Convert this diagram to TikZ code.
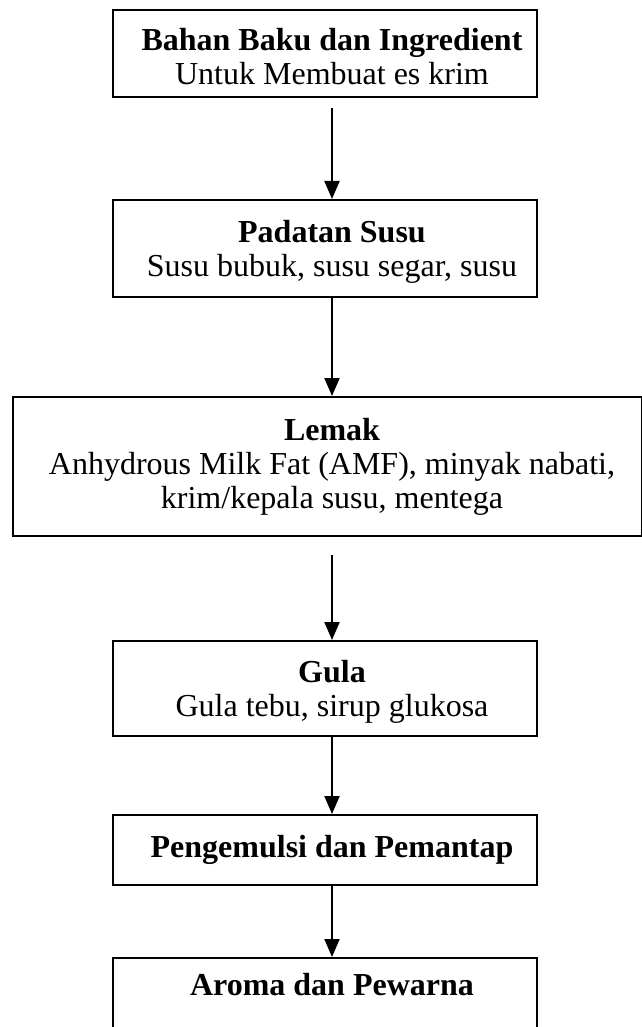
\documentclass[tikz,border=0pt]{standalone}
\usepackage{fontspec}
\setmainfont{Liberation Serif}
\usetikzlibrary{arrows.meta}
\begin{document}
\begin{tikzpicture}[x=1pt,y=-1pt,
  box/.style={draw, line width=2pt, rectangle, inner sep=0pt},
  txt/.style={align=center, font=\fontsize{32}{34}\selectfont, inner sep=0pt},
  flow/.style={line width=2pt, -{Triangle[length=18pt,width=15pt]}}]
\useasboundingbox (0,0) rectangle (641,1027);

% frames of the six steps
\node[box, minimum width=424pt, minimum height=87pt]  (b1) at (325,53.5) {};
\node[box, minimum width=424pt, minimum height=97pt]  (b2) at (325,248.5) {};
\node[box, minimum width=629pt, minimum height=139pt] (b3) at (327.5,466.5) {};
\node[box, minimum width=424pt, minimum height=95pt]  (b4) at (325,688.5) {};
\node[box, minimum width=424pt, minimum height=70pt]  (b5) at (325,850) {};
\node[box, minimum width=424pt, minimum height=110pt] (b6) at (325,1013) {};

% labels
\node[txt] (t1) at (332,57)  {\textbf{Bahan Baku dan Ingredient}\\Untuk Membuat es krim};
\node[txt] (t2) at (332,252) {\textbf{Padatan Susu}\\Susu bubuk, susu segar, susu};
\node[txt] (t3) at (332,467) {\textbf{Lemak}\\Anhydrous Milk Fat (AMF), minyak nabati,\\krim/kepala susu, mentega};
\node[txt] (t4) at (332,692) {\textbf{Gula}\\Gula tebu, sirup glukosa};
\node[txt] (t5) at (332,850) {\textbf{Pengemulsi dan Pemantap}};
\node[txt] (t6) at (332,985) {\textbf{Aroma dan Pewarna}};

% connectors
\draw[flow, shorten <=10pt] (t1 |- b1.south) -- (t1 |- b2.north);
\draw[flow] (t2 |- b2.south) -- (t2 |- b3.north);
\draw[flow, shorten <=18pt] (t3 |- b3.south) -- (t3 |- b4.north);
\draw[flow] (t4 |- b4.south) -- (t4 |- b5.north);
\draw[flow] (t5 |- b5.south) -- (t5 |- b6.north);
\end{tikzpicture}
\end{document}
